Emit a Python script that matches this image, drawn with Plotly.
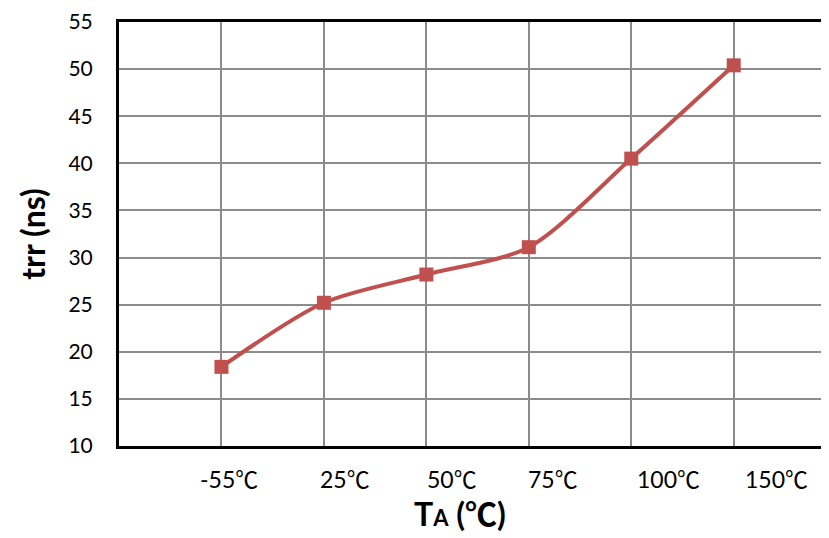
import plotly.graph_objects as go

categories = ["-55℃", "25℃", "50℃", "75℃", "100℃", "150℃"]
trr_ns = [18.4, 25.2, 28.2, 31.1, 40.5, 50.4]
y_ticks = [10, 15, 20, 25, 30, 35, 40, 45, 50, 55]

# category slot positions on the numeric x axis
x_pos = list(range(1, len(categories) + 1))
# where each category label sits (slightly right of its gridline, as in the original)
label_pos = [1.07, 2.21, 3.25, 4.24, 5.36, 6.42]

FONT = "Lato, 'Noto Sans CJK SC', sans-serif"
CJK = "'Noto Sans CJK SC'"


def fmt_label(t):
    return t.replace("℃", f"<span style=\"font-family:{CJK}\">℃</span>")


fig = go.Figure()
fig.add_trace(go.Scatter(
    x=x_pos, y=trr_ns, mode="lines+markers",
    line=dict(color="#C0504D", width=4, shape="spline", smoothing=0.8),
    marker=dict(symbol="square", size=14, color="#C0504D"),
    showlegend=False,
))

for lp, txt in zip(label_pos, categories):
    fig.add_annotation(x=lp, y=0, xref="x", yref="paper", text=fmt_label(txt),
                       showarrow=False, yanchor="top", yshift=-13,
                       font=dict(family=FONT, size=23, color="#000"))

# x-axis title (sits a little left of centre in the original)
fig.add_annotation(x=0.48, y=0, xref="paper", yref="paper",
                   text="<b>T<span style='font-size:22px'>A</span> (" + fmt_label("℃") + ")</b>",
                   showarrow=False, yanchor="top", yshift=-41,
                   font=dict(family=FONT, size=32, color="#000"))

fig.update_layout(
    width=821, height=530,
    margin=dict(l=111, r=0, t=10, b=92),
    plot_bgcolor="white", paper_bgcolor="white",
    font=dict(family=FONT, color="#000"),
)
fig.update_xaxes(
    range=[0, 6.93], tick0=0, dtick=1, showticklabels=False,
    showgrid=True, gridcolor="#8c8c8c", gridwidth=1.5,
    showline=True, linecolor="#000", linewidth=3, mirror=True,
    zeroline=False,
)
fig.update_yaxes(
    range=[10, 55], tickvals=y_ticks, ticks="",
    showgrid=True, gridcolor="#8c8c8c", gridwidth=1.5,
    showline=True, linecolor="#000", linewidth=3,
    zeroline=False, ticklabelstandoff=19, ticklabeloverflow="allow",
    tickfont=dict(family=FONT, size=21),
    title=dict(text="<b>trr (ns)</b>", font=dict(family=FONT, size=32), standoff=14),
)

fig.write_html("out.html")
